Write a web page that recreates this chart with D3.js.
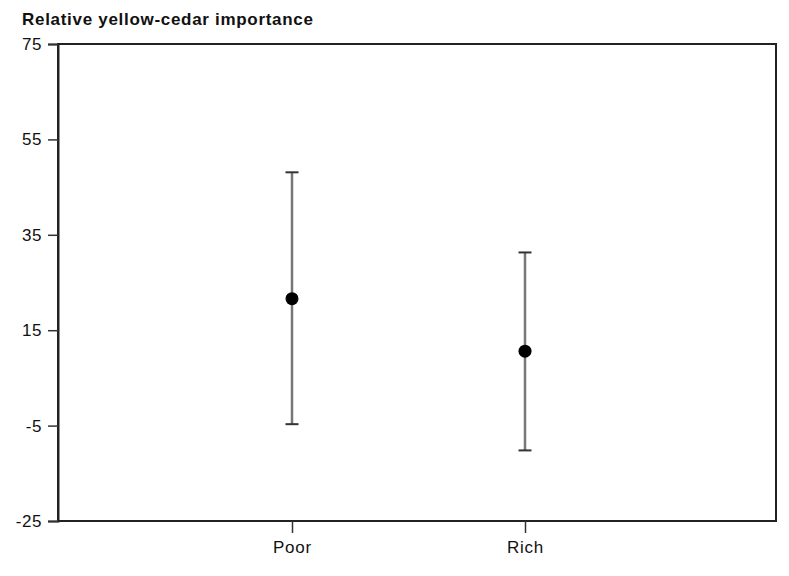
<!DOCTYPE html>
<html><head><meta charset="utf-8">
<script src="https://cdn.jsdelivr.net/npm/d3@7"></script>
<style>
body{margin:0;background:#fff;}
text{font-family:"Liberation Sans",Arial,sans-serif;fill:#111;}
</style></head>
<body>
<svg id="c" width="789" height="576"></svg>
<script>
const categories = ["Poor", "Rich"];
const means = [21.6, 10.6];
const upper = [48.1, 31.3];
const lower = [-4.7, -10.2];
const yTicks = [-25, -5, 15, 35, 55, 75];
const title = "Relative yellow-cedar importance";

(function(){
const svg = d3.select("#c");
const mL = 58, mR = 776, mT = 44, mB = 521;

const y = d3.scaleLinear().domain([-25, 75]).range([mB, mT]);
const x = d3.scalePoint().domain(categories).range([292, 525]);

// frame
svg.append("rect").attr("x", mL).attr("y", mT)
  .attr("width", mR - mL).attr("height", mB - mT)
  .attr("fill", "none").attr("stroke", "#222").attr("stroke-width", 2);

// y axis
const ya = svg.append("g").attr("transform", `translate(${mL},0)`)
  .call(d3.axisLeft(y).tickValues(yTicks).tickSize(10).tickPadding(6).tickFormat(d => String(d)));
ya.select(".domain").attr("stroke", "#222").attr("stroke-width", 2);
ya.selectAll(".tick line").attr("stroke", "#333").attr("stroke-width", 1.5);
ya.selectAll(".tick text").attr("font-size", 17).attr("letter-spacing", 0.6).attr("fill", "#111")
  .attr("font-family", "Liberation Sans, Arial, sans-serif");

// x axis
const xa = svg.append("g").attr("transform", `translate(0,${mB})`)
  .call(d3.axisBottom(x).tickSize(12).tickPadding(8));
xa.select(".domain").remove();
xa.selectAll(".tick line").attr("stroke", "#333").attr("stroke-width", 1.5);
xa.selectAll(".tick text").attr("font-size", 17).attr("letter-spacing", 0.8).attr("fill", "#111")
  .attr("font-family", "Liberation Sans, Arial, sans-serif");

// title
svg.append("text").attr("x", 22).attr("y", 25).attr("font-size", 17)
  .attr("letter-spacing", 0.7).attr("font-weight", "bold").text(title);

const data = categories.map((c, i) => ({c, m: means[i], hi: upper[i], lo: lower[i]}));
const g = svg.append("g");
g.selectAll(".bar").data(data).enter().append("line")
  .attr("x1", d => x(d.c)).attr("x2", d => x(d.c))
  .attr("y1", d => y(d.hi)).attr("y2", d => y(d.lo))
  .attr("stroke", "#777").attr("stroke-width", 2.5);
["hi", "lo"].forEach(k => {
  g.selectAll(".cap" + k).data(data).enter().append("line")
    .attr("x1", d => x(d.c) - 6.5).attr("x2", d => x(d.c) + 6.5)
    .attr("y1", d => y(d[k])).attr("y2", d => y(d[k]))
    .attr("stroke", "#333").attr("stroke-width", 2);
});
g.selectAll("circle").data(data).enter().append("circle")
  .attr("cx", d => x(d.c)).attr("cy", d => y(d.m)).attr("r", 6.5).attr("fill", "#000");
})();
</script>
</body></html>
